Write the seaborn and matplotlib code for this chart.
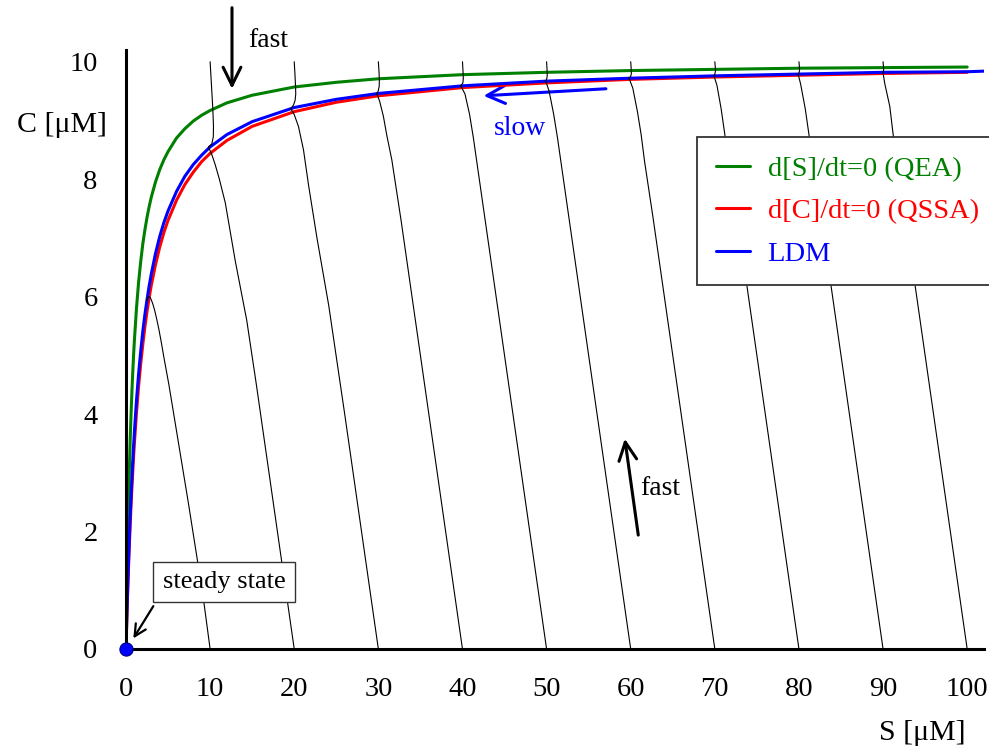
import matplotlib
matplotlib.use("Agg")
import matplotlib.pyplot as plt
import seaborn as sns
from matplotlib.lines import Line2D

# ---------------- data ----------------
S_GRID = [0, 0.05, 0.1, 0.15, 0.2, 0.25, 0.35, 0.5, 0.6, 0.75, 0.9, 1, 1.25, 1.5, 1.75,
          2, 2.25, 2.5, 2.75, 3, 3.5, 4, 4.5, 5, 6, 7, 8, 9, 10, 12, 15, 20, 25, 30,
          40, 50, 60, 70, 80, 90, 100]
C_QEA = [0, 0.53, 1.0, 1.43, 1.82, 2.17, 2.8, 3.57, 4.0, 4.55, 5.0, 5.26, 5.81, 6.25,
         6.6, 6.9, 7.14, 7.35, 7.53, 7.69, 7.95, 8.16, 8.33, 8.47, 8.7, 8.86, 8.99,
         9.09, 9.17, 9.3, 9.43, 9.57, 9.65, 9.71, 9.78, 9.82, 9.85, 9.87, 9.89, 9.9,
         9.91]
C_QSSA = [0, 0.26, 0.51, 0.75, 0.98, 1.19, 1.59, 2.13, 2.45, 2.88, 3.27, 3.51, 4.03,
          4.48, 4.86, 5.19, 5.49, 5.75, 5.98, 6.19, 6.54, 6.84, 7.09, 7.3, 7.64, 7.91,
          8.12, 8.3, 8.44, 8.66, 8.9, 9.15, 9.31, 9.42, 9.56, 9.64, 9.7, 9.74, 9.77,
          9.8, 9.82]
S_LDM = S_GRID + [102]
C_LDM = [0, 0.29, 0.56, 0.81, 1.05, 1.28, 1.71, 2.27, 2.61, 3.06, 3.46, 3.7, 4.24,
         4.69, 5.07, 5.41, 5.7, 5.95, 6.18, 6.38, 6.73, 7.02, 7.26, 7.46, 7.79, 8.05,
         8.25, 8.41, 8.55, 8.76, 8.98, 9.22, 9.36, 9.46, 9.59, 9.67, 9.72, 9.76, 9.79,
         9.82, 9.83, 9.84]

# trajectories starting at C = 0 (fast rise towards the slow manifold)
UP_S = [
    [10, 9.3, 8.5, 7.4, 6.25, 5.1, 4.5, 4.2, 3.9, 3.6, 3.4, 3.2, 3.05, 2.9, 2.75, 2.6,
     2.45],
    [20, 18.5, 17.0, 15.5, 14.35, 13.0, 11.8, 11.1, 10.6, 10.2, 9.8],
    [30, 28, 26, 24.1, 22.7, 21.7, 21.1, 20.5, 20.0, 19.6],
    [40, 38, 36, 34.05, 32.7, 31.6, 31.0, 30.6, 30.15, 29.8],
    [50, 48, 46, 44.05, 42.65, 41.7, 41.3, 40.85, 40.3, 39.8],
    [60, 58, 56, 54.05, 52.65, 51.7, 51.3, 50.85, 50.3, 49.9],
    [70, 68, 66, 64.05, 62.65, 61.65, 61.25, 60.8, 60.25, 59.8],
    [80, 78, 76, 74.05, 72.65, 71.65, 71.2, 70.75, 70.25, 69.9],
    [90, 88, 86, 84.05, 82.65, 81.65, 81.2, 80.75, 80.2, 79.9],
    [100, 98, 96, 94.05, 92.65, 91.6, 91.2, 90.8, 90.2, 90.0],
]
UP_C = [
    [0, 0.75, 1.5, 2.5, 3.5, 4.5, 4.97, 5.22, 5.45, 5.65, 5.77, 5.87, 5.93, 5.98, 6.0,
     5.99, 5.93],
    [0, 1.5, 3.0, 4.5, 5.6, 6.6, 7.6, 8.0, 8.25, 8.42, 8.55],
    [0, 2, 4, 5.85, 7.0, 7.9, 8.5, 8.9, 9.1, 9.2],
    [0, 2, 4, 5.95, 7.3, 8.33, 8.75, 9.07, 9.33, 9.46],
    [0, 2, 4, 5.95, 7.35, 8.3, 8.7, 9.1, 9.45, 9.59],
    [0, 2, 4, 5.95, 7.35, 8.3, 8.7, 9.1, 9.5, 9.67],
    [0, 2, 4, 5.95, 7.35, 8.3, 8.75, 9.15, 9.55, 9.72],
    [0, 2, 4, 5.95, 7.35, 8.3, 8.75, 9.2, 9.6, 9.76],
    [0, 2, 4, 5.95, 7.35, 8.3, 8.75, 9.2, 9.62, 9.79],
    [0, 2, 4, 5.95, 7.35, 8.35, 8.76, 9.24, 9.63, 9.81],
]
# trajectories starting at C = 10 (fast fall towards the slow manifold)
DOWN_S = [
    [10.0, 10.1, 10.2, 10.32, 10.4, 10.38, 10.2, 9.8],
    [20.0, 20.08, 20.15, 20.18, 20.1, 19.9, 19.6],
    [30, 30.07, 30.12, 30.1, 29.98, 29.8],
    [40, 40.06, 40.1, 40.05, 39.8],
    [50, 50.05, 50.08, 50.02, 49.9],
    [60, 60.05, 60.08, 60.0, 59.8],
    [70, 70.05, 70.08, 70.0, 69.9],
    [80, 80.05, 80.07, 80.0, 79.9],
    [90, 90.04, 90.07, 90.05, 90.0],
]
DOWN_C = [
    [10, 9.75, 9.5, 9.2, 8.9, 8.72, 8.6, 8.55],
    [10, 9.8, 9.6, 9.45, 9.34, 9.26, 9.2],
    [10, 9.85, 9.7, 9.58, 9.5, 9.46],
    [10, 9.85, 9.72, 9.64, 9.59],
    [10, 9.88, 9.77, 9.71, 9.67],
    [10, 9.9, 9.8, 9.75, 9.72],
    [10, 9.92, 9.84, 9.79, 9.76],
    [10, 9.92, 9.85, 9.81, 9.79],
    [10, 9.93, 9.87, 9.84, 9.81],
]
STEADY_S = [0]
STEADY_C = [0]

X_TICKS = [0, 10, 20, 30, 40, 50, 60, 70, 80, 90, 100]
Y_TICKS = [0, 2, 4, 6, 8, 10]
LABELS = ["d[S]/dt=0 (QEA)", "d[C]/dt=0 (QSSA)", "LDM"]
COLORS = ["#008000", "#ff0000", "#0000ff"]

# ---------------- style ----------------
sns.set_theme(style="white")
plt.rcParams["font.family"] = ["Liberation Serif", "DejaVu Serif"]
plt.rcParams["text.color"] = "black"
plt.rcParams["axes.labelcolor"] = "black"
plt.rcParams["xtick.color"] = "black"
plt.rcParams["ytick.color"] = "black"

W, H = 989, 748
fig = plt.figure(figsize=(W / 100, H / 100), dpi=100)
ax = fig.add_axes([126 / W, 99 / H, 858 / W, 599 / H])

CURVE_LW = 2.2
sns.lineplot(x=S_GRID, y=C_QEA, ax=ax, color=COLORS[0], lw=CURVE_LW, sort=False,
             estimator=None, zorder=3)
sns.lineplot(x=S_GRID, y=C_QSSA, ax=ax, color=COLORS[1], lw=CURVE_LW, sort=False,
             estimator=None, zorder=4)
sns.lineplot(x=S_LDM, y=C_LDM, ax=ax, color=COLORS[2], lw=CURVE_LW, sort=False,
             estimator=None, zorder=5)

for s, c in zip(UP_S, UP_C):
    sns.lineplot(x=s, y=c, ax=ax, color="black", lw=0.8, sort=False,
                 estimator=None, zorder=6)
for s, c in zip(DOWN_S, DOWN_C):
    sns.lineplot(x=s, y=c, ax=ax, color="black", lw=0.8, sort=False,
                 estimator=None, zorder=6)

ax.plot(STEADY_S, STEADY_C, "o", ms=9.5, mfc="#0000ff", mec="#000080", mew=0.8,
        clip_on=False, zorder=20)

ax.set_xlim(0, 102)
ax.set_ylim(0, 10.2)
ax.set_xticks(X_TICKS)
ax.set_yticks(Y_TICKS)
ax.set_xticklabels([str(v) for v in X_TICKS])
ax.set_yticklabels([str(v) for v in Y_TICKS])
ax.set_xlabel("")
ax.set_ylabel("")
for side in ["top", "right"]:
    ax.spines[side].set_visible(False)
for side in ["left", "bottom"]:
    ax.spines[side].set_linewidth(2.2)
    ax.spines[side].set_color("black")
    ax.spines[side].set_zorder(7)
ax.tick_params(axis="both", which="major", direction="out", length=14.5, width=2.2,
               color="black", labelsize=20.5, labelcolor="black")
ax.tick_params(axis="x", pad=5.5)
ax.tick_params(axis="y", pad=6)
ax.set_facecolor("white")
ax.grid(False)

fig.text(62 / W, 1 - 125 / H, "C [\u03bcM]", fontsize=21.5, ha="center", va="center",
         color="black")
fig.text(922 / W, 1 - 733 / H, "S [\u03bcM]", fontsize=21.5, ha="center", va="center",
         color="black")

# annotations
arrow_kw = dict(arrowstyle="->,head_length=0.65,head_width=0.32", lw=2.2,
                shrinkA=0, shrinkB=0, mutation_scale=20)
ax.annotate("", xy=(12.6, 9.54), xytext=(12.6, 10.92),
            arrowprops=dict(color="black", **arrow_kw), annotation_clip=False)
ax.text(14.5, 10.36, "fast", fontsize=20, ha="left", va="center", color="black")
ax.annotate("", xy=(59.3, 3.58), xytext=(60.9, 1.94),
            arrowprops=dict(color="black", **arrow_kw), annotation_clip=False)
ax.text(61.1, 2.74, "fast", fontsize=20, ha="left", va="center", color="black")
ax.annotate("", xy=(42.5, 9.42), xytext=(57.05, 9.54),
            arrowprops=dict(color="#0000ff", **arrow_kw), annotation_clip=False)
ax.text(46.8, 8.86, "slow", fontsize=20, ha="center", va="center", color="#0000ff")

ax.text(11.65, 1.14, "steady state", fontsize=19, ha="center", va="center", zorder=15,
        color="black",
        bbox=dict(boxstyle="square,pad=0.35", fc="white", ec="#333333", lw=1.0))
ax.annotate("", xy=(0.87, 0.18), xytext=(3.25, 0.73),
            arrowprops=dict(arrowstyle="->,head_length=0.6,head_width=0.3", lw=1.6,
                            color="black", shrinkA=0, shrinkB=0, mutation_scale=14),
            annotation_clip=False, zorder=15)

handles = [Line2D([0], [0], color=c, lw=CURVE_LW) for c in COLORS]
leg = ax.legend(handles, LABELS, loc="upper left",
                bbox_to_anchor=(697 / W, 1 - 137 / H), bbox_transform=fig.transFigure,
                fontsize=20.5, frameon=True, fancybox=False, framealpha=1,
                edgecolor="#333333", handlelength=1.19, handletextpad=0.63,
                borderpad=0.66, labelspacing=0.58, borderaxespad=0)
leg.get_frame().set_linewidth(1.3)
leg.set_zorder(30)
for t, c in zip(leg.get_texts(), COLORS):
    t.set_color(c)

fig.savefig("out.png", dpi=100, facecolor="white")
